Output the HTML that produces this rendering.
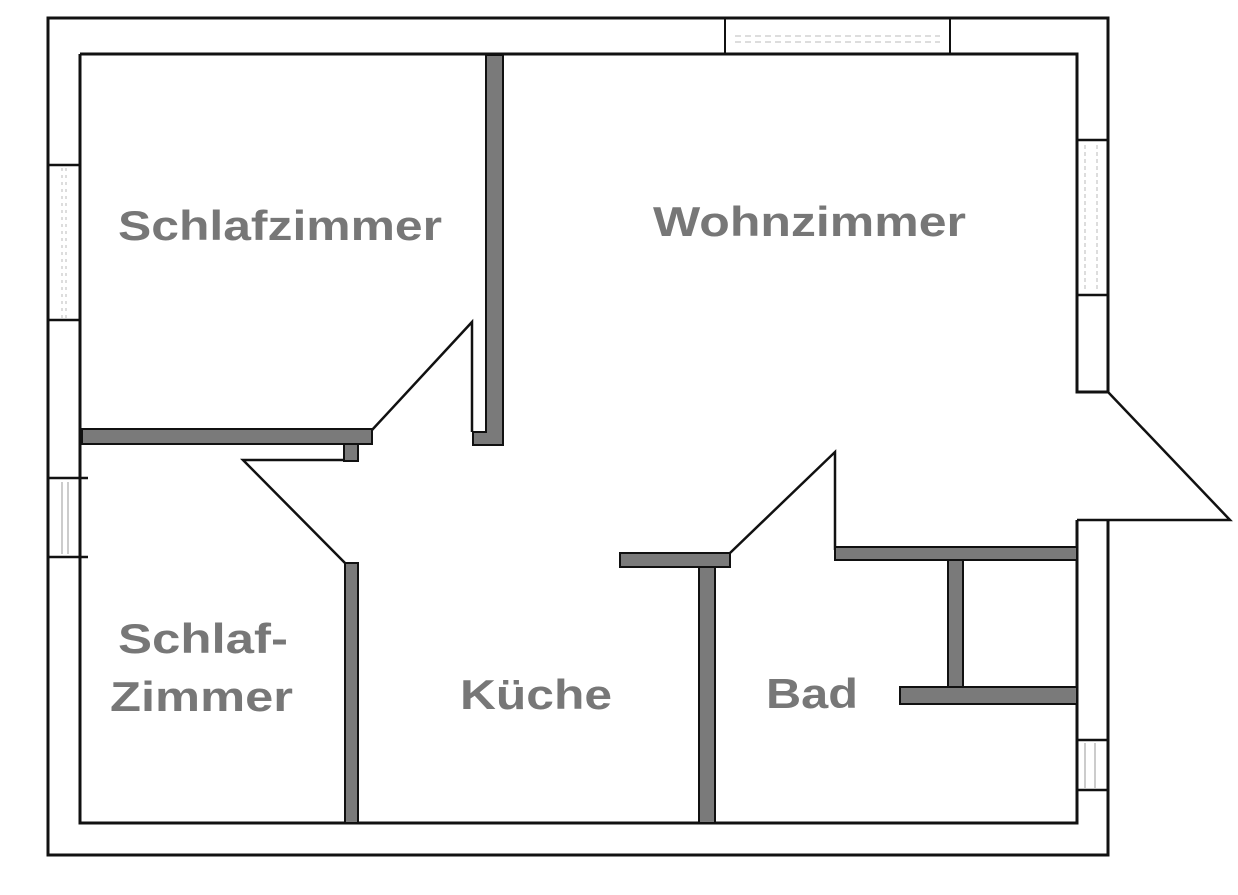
<!DOCTYPE html>
<html><head><meta charset="utf-8"><style>html,body{margin:0;padding:0;background:#fff}svg{display:block}</style></head>
<body>
<svg width="1238" height="895" viewBox="0 0 1238 895" xmlns="http://www.w3.org/2000/svg">
<rect width="1238" height="895" fill="#fff"/>
<g fill="none" stroke="#111" stroke-width="3">
<!-- outer wall -->
<path d="M1108 392 V18 H48 V855 H1108 V520"/>
<path d="M725 18 V54 M950 18 V54" stroke-width="2"/>
<!-- inner wall -->
<path d="M80 54 H1077 V392 H1108 M1077 520 V823 H80 V54"/>
<!-- left windows -->
<path d="M48 165 H80 M48 320 H80 M48 478 H88 M48 557 H88" stroke-width="2.5"/>
<!-- right windows -->
<path d="M1077 140 H1108 M1077 295 H1108 M1077 740 H1108 M1077 790 H1108" stroke-width="2.5"/>
<!-- doors -->
<path d="M1108 392 L1230 520 H1077" stroke-width="2.5"/>
<path d="M372 430 L472 322 V432" stroke-width="2.5"/>
<path d="M345 460 H243 L345 563" stroke-width="2.5"/>
<path d="M730 553 L835 452 V550" stroke-width="2.5"/>
</g>
<g stroke="#555" stroke-width="1" fill="#888">
<path d="M62 168 V318 M66 168 V318" stroke="#bbb" stroke-dasharray="3 4"/>
<path d="M62 482 V554 M68 482 V554" stroke="#999"/>
<path d="M1085 145 V292 M1097 145 V292" stroke="#bbb" stroke-dasharray="4 3"/>
<path d="M1085 743 V788 M1095 743 V788" stroke="#999"/>
<path d="M735 36 H940 M735 42 H940" stroke="#bbb" stroke-dasharray="6 4"/>
</g>
<g fill="#7a7a7a" stroke="#111" stroke-width="2">
<rect x="82" y="429" width="290" height="15"/>
<rect x="344" y="444" width="14" height="17"/>
<path d="M486 55 H503 V445 H473 V432 H486 Z"/>
<rect x="345" y="563" width="13" height="260"/>
<rect x="620" y="553" width="110" height="14"/>
<rect x="699" y="567" width="16" height="256"/>
<rect x="835" y="547" width="242" height="13"/>
<rect x="948" y="560" width="15" height="127"/>
<rect x="900" y="687" width="177" height="17"/>
</g>
<g fill="#777" font-family="Liberation Sans, sans-serif" font-weight="bold" font-size="42">
<text x="118" y="240" textLength="324" lengthAdjust="spacingAndGlyphs">Schlafzimmer</text>
<text x="653" y="236" textLength="313" lengthAdjust="spacingAndGlyphs">Wohnzimmer</text>
<text x="118" y="653" textLength="170" lengthAdjust="spacingAndGlyphs">Schlaf-</text>
<text x="110" y="711" textLength="183" lengthAdjust="spacingAndGlyphs">Zimmer</text>
<text x="460" y="709" textLength="152" lengthAdjust="spacingAndGlyphs">Küche</text>
<text x="766" y="708" textLength="92" lengthAdjust="spacingAndGlyphs">Bad</text>
</g>
</svg>
</body></html>
